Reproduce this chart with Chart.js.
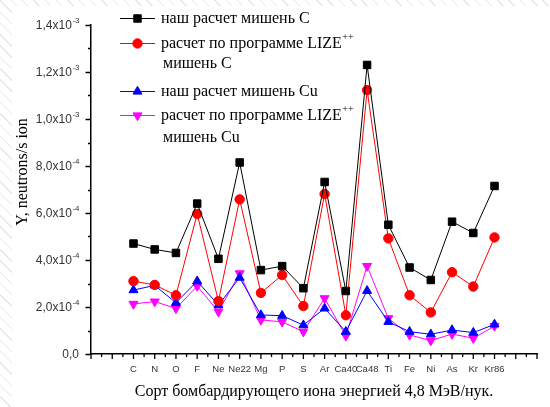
<!DOCTYPE html>
<html>
<head>
<meta charset="utf-8">
<script src="https://cdn.jsdelivr.net/npm/chart.js"></script>
<style>
	html, body { margin: 0; padding: 0; }
	body {
		width: 550px; height: 407px; position: relative; overflow: hidden;
		background: repeating-linear-gradient(45deg, #fff 0px, #fff 7px, #e6e6e6 7px, #e6e6e6 8px);
	}
	#sheet { position: absolute; left: 12px; top: 6px; right: 0; bottom: 0; background: #fff; }
	#graph { position: absolute; left: 0; top: 0; }
</style>
</head>
<body>
<div id="sheet"></div>
<canvas id="graph" width="550" height="407"></canvas>
<script>
// ионы-снаряды по оси X
var ions = ["C", "N", "O", "F", "Ne", "Ne22", "Mg", "P", "S", "Ar", "Ca40", "Ca48", "Ti", "Fe", "Ni", "As", "Kr", "Kr86"];

// выход нейтронов Y, neutrons/s ion
var ourTargetC   = [4.70e-4, 4.45e-4, 4.30e-4, 6.40e-4, 4.05e-4, 8.15e-4, 3.57e-4, 3.74e-4, 2.80e-4, 7.32e-4, 2.68e-4, 1.23e-3, 5.50e-4, 3.68e-4, 3.15e-4, 5.63e-4, 5.15e-4, 7.15e-4];
var lizeTargetC  = [3.10e-4, 2.94e-4, 2.50e-4, 5.96e-4, 2.25e-4, 6.58e-4, 2.60e-4, 3.36e-4, 2.04e-4, 6.81e-4, 1.65e-4, 1.123e-3, 4.92e-4, 2.50e-4, 1.77e-4, 3.48e-4, 2.87e-4, 4.96e-4];
var ourTargetCu  = [2.72e-4, 2.92e-4, 2.18e-4, 3.10e-4, 2.08e-4, 3.25e-4, 1.66e-4, 1.63e-4, 1.23e-4, 1.94e-4, 0.95e-4, 2.69e-4, 1.37e-4, 0.95e-4, 0.84e-4, 1.02e-4, 0.91e-4, 1.26e-4];
var lizeTargetCu = [2.13e-4, 2.23e-4, 1.94e-4, 2.89e-4, 1.80e-4, 3.43e-4, 1.45e-4, 1.37e-4, 0.95e-4, 2.37e-4, 0.77e-4, 3.74e-4, 1.52e-4, 0.81e-4, 0.57e-4, 0.85e-4, 0.67e-4, 1.19e-4];

// подписи оси Y: мантисса и показатель степени
var yTicks = [0, 2e-4, 4e-4, 6e-4, 8e-4, 1e-3, 1.2e-3, 1.4e-3];
var yTickLabels = [
	["0,0", ""], ["2,0x10", "-4"], ["4,0x10", "-4"], ["6,0x10", "-4"],
	["8,0x10", "-4"], ["1,0x10", "-3"], ["1,2x10", "-3"], ["1,4x10", "-3"]
];

var xTitle = "Сорт бомбардирующего иона энергией 4,8 МэВ/нук.";
var yTitle = "Y, neutrons/s ion";

var serif = "'Liberation Serif', 'Times New Roman', serif";
var sans = "'Liberation Sans', Arial, sans-serif";

// две пустые позиции слева и справа, как на оси Origin
function padLabels(arr) { return ["", ""].concat(arr, ["", ""]); }
function padData(arr) { return [null, null].concat(arr, [null, null]); }

function makeDataset(label, data, color, style, radius, rotation) {
	return {
		label: label,
		data: padData(data),
		borderColor: color,
		backgroundColor: color,
		borderWidth: 1,
		pointStyle: style,
		pointRadius: radius,
		pointRotation: rotation || 0,
		pointBorderWidth: 1,
		pointBackgroundColor: color,
		pointBorderColor: color,
		tension: 0
	};
}

function drawMarker(ctx, ds, x, y) {
	var r = ds.pointRadius;
	ctx.save();
	ctx.fillStyle = ds.pointBackgroundColor;
	ctx.strokeStyle = ds.pointBorderColor;
	ctx.lineWidth = 1;
	ctx.beginPath();
	if (ds.pointStyle == "rect") {
		var s = r * Math.SQRT1_2;
		ctx.rect(x - s, y - s, 2 * s, 2 * s);
	} else if (ds.pointStyle == "circle") {
		ctx.arc(x, y, r, 0, Math.PI * 2);
	} else {
		var d = ds.pointRotation ? -1 : 1;
		ctx.moveTo(x, y - d * r);
		ctx.lineTo(x + r * 0.866, y + d * r / 2);
		ctx.lineTo(x - r * 0.866, y + d * r / 2);
		ctx.closePath();
	}
	ctx.fill();
	ctx.stroke();
	ctx.restore();
}

// засечки, подписи оси Y, подпись оси Y и легенда
var originAxes = {
	id: "originAxes",
	afterDraw: function(chart) {
		var ctx = chart.ctx;
		var xs = chart.scales.x, ys = chart.scales.y;
		var axisX = chart.chartArea.left, axisY = chart.chartArea.bottom;

		ctx.save();
		ctx.strokeStyle = "#000";
		ctx.lineWidth = 1.3;
		ctx.beginPath();
		// ось Y: большие засечки через 2e-4, малые посередине
		for (var i = 0; i <= 14; i++) {
			var py = Math.round(ys.getPixelForValue(i * 1e-4)) + 0.5;
			var len = (i % 2 == 0) ? 5.5 : 3;
			ctx.moveTo(axisX, py);
			ctx.lineTo(axisX - len, py);
		}
		// ось X: засечки на каждой позиции и между ними
		var n = chart.data.labels.length;
		for (var k = 0; k < n; k++) {
			var px = xs.getPixelForValue(k);
			ctx.moveTo(px, axisY);
			ctx.lineTo(px, axisY + 5);
			if (k < n - 1) {
				var mx = (px + xs.getPixelForValue(k + 1)) / 2;
				ctx.moveTo(mx, axisY);
				ctx.lineTo(mx, axisY + 3);
			}
		}
		ctx.stroke();

		// подписи оси Y со степенью
		ctx.fillStyle = "#333";
		ctx.textBaseline = "middle";
		ctx.textAlign = "left";
		for (var j = 0; j < yTicks.length; j++) {
			var ty = ys.getPixelForValue(yTicks[j]);
			ctx.font = "12px " + sans;
			var wm = ctx.measureText(yTickLabels[j][0]).width;
			ctx.font = "8px " + sans;
			var we = ctx.measureText(yTickLabels[j][1]).width;
			var x0 = 79 - wm - we;
			ctx.font = "12px " + sans;
			ctx.fillText(yTickLabels[j][0], x0, ty + 1);
			ctx.font = "8px " + sans;
			ctx.fillText(yTickLabels[j][1], x0 + wm + 0.5, ty - 4);
		}

		// подпись оси Y
		ctx.fillStyle = "#000";
		ctx.save();
		ctx.translate(23, 172);
		ctx.rotate(-Math.PI / 2);
		ctx.textAlign = "center";
		ctx.font = "16px " + serif;
		ctx.fillText(yTitle, 0, 0);
		ctx.restore();

		// легенда
		var rows = [
			{ ds: 0, y: 18, text: "наш расчет мишень C" },
			{ ds: 1, y: 43, text: "расчет по программе LIZE", sup: "++" },
			{ y: 63, text: "мишень C" },
			{ ds: 2, y: 91, text: "наш расчет мишень Cu" },
			{ ds: 3, y: 115, text: "расчет по программе LIZE", sup: "++" },
			{ y: 137, text: "мишень Cu" }
		];
		rows.forEach(function(row) {
			var tx = 163;
			if (row.ds !== undefined) {
				var ds = chart.data.datasets[row.ds];
				ctx.strokeStyle = ds.borderColor;
				ctx.lineWidth = 1;
				ctx.beginPath();
				ctx.moveTo(120, row.y + 0.5);
				ctx.lineTo(155, row.y + 0.5);
				ctx.stroke();
				drawMarker(ctx, ds, 137.5, row.y + 0.5);
				tx = 161;
			}
			ctx.fillStyle = "#000";
			ctx.font = "16px " + serif;
			ctx.fillText(row.text, tx, row.y + 1);
			if (row.sup) {
				var w = ctx.measureText(row.text).width;
				ctx.font = "10px " + serif;
				ctx.fillText(row.sup, tx + w + 0.5, row.y - 6);
			}
		});
		ctx.restore();
	}
};

var ctx = document.getElementById("graph").getContext("2d");

var neutronChart = new Chart(ctx, {
	type: "line",
	data: {
		labels: padLabels(ions),
		datasets: [
			makeDataset("наш расчет мишень C", ourTargetC, "#000000", "rect", 5.3),
			makeDataset("расчет по программе LIZE++ мишень C", lizeTargetC, "#ff0000", "circle", 4.7),
			makeDataset("наш расчет мишень Cu", ourTargetCu, "#0000ff", "triangle", 5.2),
			makeDataset("расчет по программе LIZE++ мишень Cu", lizeTargetCu, "#ff00ff", "triangle", 5.2, 180)
		]
	},
	options: {
		responsive: false,
		animation: false,
		layout: { padding: { top: 25, right: 13, left: 0, bottom: 0 } },
		plugins: {
			legend: { display: false },
			tooltip: { enabled: false }
		},
		scales: {
			x: {
				type: "category",
				offset: false,
				grid: { display: false, drawTicks: false },
				border: { display: true, color: "#000", width: 1.5 },
				ticks: {
					autoSkip: false, maxRotation: 0, padding: 10, color: "#333",
					font: { family: sans, size: 9.5 }
				},
				title: {
					display: true, text: xTitle, color: "#000",
					font: { family: serif, size: 16 },
					padding: { top: 0, bottom: 6 }
				},
				afterFit: function(scale) { scale.height = 53; }
			},
			y: {
				min: 0,
				max: 1.4e-3,
				grid: { display: false, drawTicks: false },
				border: { display: true, color: "#000", width: 1.5 },
				ticks: { display: false, stepSize: 2e-4 },
				afterFit: function(scale) { scale.width = 91; }
			}
		}
	},
	plugins: [originAxes]
});
</script>
</body>
</html>
